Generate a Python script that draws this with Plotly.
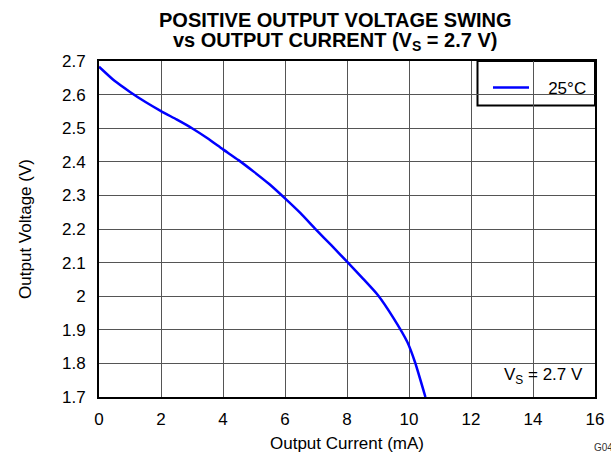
import plotly.graph_objects as go

# Output current (mA) and positive output voltage (V) at 25°C, VS = 2.7 V
current_ma = [0, 0.5, 1, 1.5, 2, 2.5, 3, 3.5, 4, 4.5, 5, 5.5, 6, 6.5,
              7, 7.5, 8, 8.5, 9, 9.5, 9.95, 10.2, 10.53]
voltage_v = [2.683, 2.641, 2.608, 2.578, 2.551, 2.526, 2.500, 2.470, 2.437,
             2.405, 2.370, 2.333, 2.291, 2.247, 2.198, 2.151, 2.103, 2.054,
             2.003, 1.935, 1.863, 1.802, 1.700]

x_ticks = [0, 2, 4, 6, 8, 10, 12, 14, 16]
y_ticks = [1.7, 1.8, 1.9, 2.0, 2.1, 2.2, 2.3, 2.4, 2.5, 2.6, 2.7]
y_tick_text = ["1.7", "1.8", "1.9", "2", "2.1", "2.2", "2.3", "2.4", "2.5", "2.6", "2.7"]

W, H = 611, 453
L, R, T, B = 99, 16, 61, 56
PW, PH = W - L - R, H - T - B
FONT = "Liberation Sans, Arial, sans-serif"
NBSP = "\u00a0"


def px_x(p):
    return (p - L) / PW


def px_y(p):
    return (H - B - p) / PH


fig = go.Figure()
fig.add_trace(go.Scatter(
    x=current_ma, y=voltage_v, mode="lines", name=NBSP * 3 + "25°C",
    line=dict(color="#0000ff", width=2.5, shape="spline", smoothing=0.5),
))

axis_common = dict(
    showline=True, linecolor="black", linewidth=2, mirror=True,
    showgrid=True, gridcolor="#555555", gridwidth=1, automargin=False,
    zeroline=False, ticks="", tickfont=dict(family=FONT, size=17, color="black"),
)

fig.update_xaxes(
    range=[0, 16], tickvals=x_ticks, ticklabelstandoff=6,
    title=dict(text="Output Current (mA)", font=dict(family=FONT, size=17, color="black"), standoff=10),
    **axis_common,
)
fig.update_yaxes(
    range=[1.7, 2.7], tickvals=y_ticks, ticktext=y_tick_text, ticklabelstandoff=8,
    title=dict(text="Output Voltage (V)", font=dict(family=FONT, size=17, color="black"), standoff=26),
    **axis_common,
)

# legend frame and the white patch behind the supply note
fig.add_shape(type="rect", xref="paper", yref="paper",
              x0=px_x(477.5), x1=1, y0=px_y(105.5), y1=1,
              line=dict(color="black", width=2), fillcolor="white", layer="between")
fig.add_shape(type="rect", xref="paper", yref="paper",
              x0=px_x(484), x1=1, y0=0, y1=px_y(352),
              line=dict(width=0), fillcolor="white", layer="between")

fig.add_annotation(
    text="V<sub>S</sub> = 2.7 V", xref="paper", yref="paper",
    x=px_x(543), y=px_y(376), xanchor="center", yanchor="middle", showarrow=False,
    font=dict(family=FONT, size=17, color="black"),
)

fig.add_annotation(
    text="<b>POSITIVE OUTPUT VOLTAGE SWING</b>", xref="paper", yref="paper",
    x=px_x(335), y=px_y(20), xanchor="center", yanchor="middle", showarrow=False,
    font=dict(family=FONT, size=20, color="black"),
)
fig.add_annotation(
    text="<b>vs OUTPUT CURRENT (V<sub>S</sub> = 2.7 V)</b>", xref="paper", yref="paper",
    x=px_x(335), y=px_y(41), xanchor="center", yanchor="middle", showarrow=False,
    font=dict(family=FONT, size=20, color="black"),
)

fig.add_annotation(
    text="G04", xref="paper", yref="paper",
    x=px_x(592), y=px_y(447), xanchor="left", yanchor="middle", showarrow=False,
    font=dict(family=FONT, size=10, color="#333333"),
)

fig.update_layout(
    width=W, height=H,
    margin=dict(l=L, r=R, t=T, b=B, pad=0),
    paper_bgcolor="white", plot_bgcolor="white",
    showlegend=True,
    legend=dict(
        x=px_x(488), y=px_y(70), xanchor="left", yanchor="top",
        bgcolor="rgba(0,0,0,0)", borderwidth=0, itemwidth=36,
        font=dict(family=FONT, size=17, color="black"),
    ),
)

fig.write_html("out.html")
